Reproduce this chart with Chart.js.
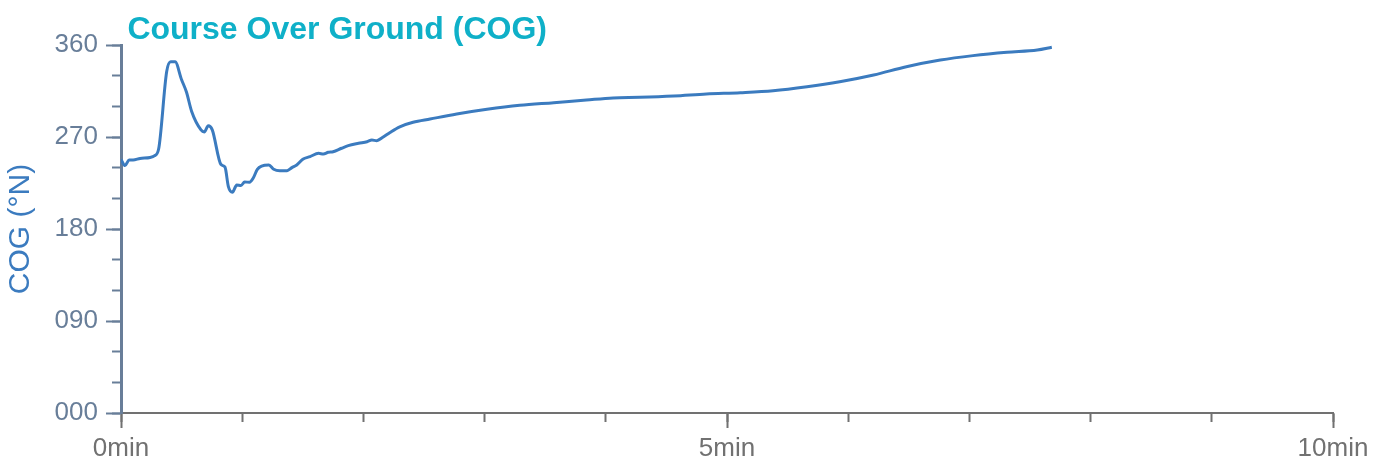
<!DOCTYPE html>
<html>
<head>
<meta charset="utf-8">
<script src="https://cdn.jsdelivr.net/npm/chart.js@4"></script>
<style>
html,body{margin:0;padding:0;background:#fff;}
canvas{display:block;}
</style>
</head>
<body>
<canvas id="c" width="1384" height="465"></canvas>
<script>
// elapsed time (minutes)
const timeMin = [0, 0.033, 0.066, 0.10, 0.157, 0.24, 0.275, 0.31, 0.377, 0.41, 0.446, 0.50, 0.54, 0.583, 0.66, 0.687, 0.72, 0.753, 0.825, 0.858, 0.886, 0.919, 0.955, 0.99, 1.02, 1.06, 1.09, 1.125, 1.16, 1.22, 1.26, 1.31, 1.37, 1.41, 1.45, 1.50, 1.56, 1.63, 1.67, 1.71, 1.75, 1.82, 1.875, 1.96, 2.03, 2.07, 2.11, 2.16, 2.22, 2.30, 2.41, 2.55, 2.77, 3.02, 3.29, 3.57, 3.84, 4.06, 4.28, 4.56, 4.83, 5.11, 5.38, 5.66, 5.93, 6.21, 6.48, 6.76, 7.03, 7.31, 7.56, 7.68];
// course over ground (degrees)
const cogDeg = [248, 242, 247.5, 247.5, 249, 250, 251.5, 258, 334, 343.5, 343.5, 326, 314, 295, 277, 275, 281, 277, 243, 240.5, 221.5, 216, 223, 222.5, 226, 225.7, 229.6, 238.4, 241.6, 242.6, 238.4, 237, 237, 240, 242.6, 248.2, 250.8, 254, 253.4, 255, 255.6, 259, 261.5, 263.8, 265.4, 267, 266.4, 269.7, 274.5, 280, 284.4, 287.6, 292.5, 297.1, 301, 303.6, 306.2, 308.2, 308.8, 310.1, 312.1, 313.4, 315.3, 319.2, 324.1, 330.7, 338.8, 345.3, 349.6, 352.9, 355.1, 357.8];
const xMajorLabels = ['0min', '5min', '10min'];
const yRange = [0, 360];
const xRange = [0, 10];

const points = timeMin.map((t, i) => ({x: t, y: cogDeg[i]}));
const FONT = "'Liberation Sans', Arial, sans-serif";
const yCol = '#687e99';
const xCol = '#717171';

new Chart(document.getElementById('c'), {
  type: 'line',
  data: {
    datasets: [{
      data: points,
      borderColor: '#3b7bbf',
      borderWidth: 3,
      pointRadius: 0,
      cubicInterpolationMode: 'monotone',
      fill: false
    }]
  },
  options: {
    responsive: false,
    animation: false,
    layout: {padding: {left: 0, right: 51, top: 0, bottom: 0}},
    plugins: {
      legend: {display: false},
      tooltip: {enabled: false},
      title: {
        display: true,
        fullSize: false,
        align: 'start',
        text: '\u2009Course Over Ground (COG)',
        color: '#0fb0c8',
        font: {family: FONT, size: 32, weight: 'bold', lineHeight: 1.0},
        padding: {top: 14, bottom: -1}
      }
    },
    scales: {
      x: {
        type: 'linear',
        min: xRange[0], max: xRange[1],
        afterFit: s => { s.height = 52; },
        ticks: {
          stepSize: 5,
          color: xCol,
          padding: 5,
          maxRotation: 0,
          font: {family: FONT, size: 26},
          callback: v => xMajorLabels[v / 5]
        },
        grid: {drawOnChartArea: false, drawTicks: true, tickLength: 15, tickColor: xCol, tickWidth: 2},
        border: {display: true, color: xCol, width: 2}
      },
      x2: {
        type: 'linear',
        axis: 'x',
        position: {y: 0},
        min: xRange[0], max: xRange[1],
        ticks: {display: false, stepSize: 1},
        grid: {drawOnChartArea: false, drawTicks: true, tickLength: 9, tickColor: xCol, tickWidth: 2},
        border: {display: false}
      },
      y: {
        type: 'linear',
        min: yRange[0], max: yRange[1],
        afterFit: s => { s.width = 121; },
        ticks: {
          stepSize: 90,
          color: yCol,
          padding: 8,
          font: {family: FONT, size: 26},
          callback: v => String(v).padStart(3, '0')
        },
        title: {
          display: true,
          text: 'COG (°N)',
          color: '#3b7bbf',
          font: {family: FONT, size: 30},
          padding: {top: 3, bottom: 0}
        },
        grid: {drawOnChartArea: false, drawTicks: true, tickLength: 15, tickColor: yCol, tickWidth: 2},
        border: {display: true, color: yCol, width: 3}
      },
      y2: {
        type: 'linear',
        axis: 'y',
        position: {x: 0},
        min: yRange[0], max: yRange[1],
        ticks: {display: false, stepSize: 30},
        grid: {drawOnChartArea: false, drawTicks: true, tickLength: 9, tickColor: yCol, tickWidth: 2},
        border: {display: false}
      }
    }
  }
});
</script>
</body>
</html>
